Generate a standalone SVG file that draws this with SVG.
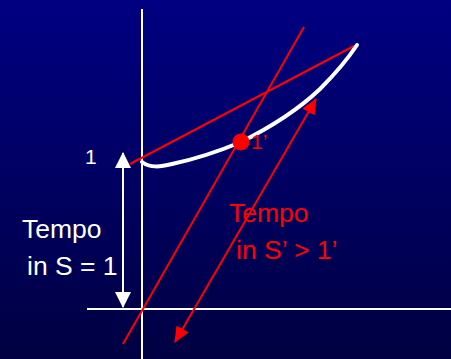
<svg xmlns="http://www.w3.org/2000/svg" width="451" height="359" viewBox="0 0 451 359">
<defs>
<linearGradient id="bg" x1="0" y1="0" x2="0" y2="1">
<stop offset="0" stop-color="#000082"/>
<stop offset="1" stop-color="#000042"/>
</linearGradient>
<marker id="wa" viewBox="0 0 16 16" refX="15" refY="8" markerWidth="16" markerHeight="16" markerUnits="userSpaceOnUse" orient="auto-start-reverse">
<path d="M0,0 L16,8 L0,16 Z" fill="#fff"/>
</marker>
<marker id="ra" viewBox="0 0 16 14" refX="15" refY="7" markerWidth="16" markerHeight="14" markerUnits="userSpaceOnUse" orient="auto-start-reverse">
<path d="M0,0 L16,7 L0,14 Z" fill="#f00"/>
</marker>
<style>
.ax{stroke:#fff;stroke-width:2;fill:none}
.rl{stroke:#f00;stroke-width:2;fill:none}
.t{font-family:"Liberation Sans",Arial,sans-serif}
.w{fill:#fff}
.r{fill:#f00}
</style>
</defs>
<rect width="451" height="359" fill="url(#bg)"/>
<g id="axes">
<line class="ax" x1="142" y1="9" x2="142" y2="359"/>
<line class="ax" x1="87" y1="309" x2="451" y2="309"/>
</g>
<g id="connectors">
<line class="rl" x1="304" y1="27" x2="123" y2="344"/>
<line class="rl" x1="130" y1="164" x2="354" y2="46"/>
<path d="M142,162 C150,168 160,167 172,164 C200,158 222,150 241,142 C275,125 300,108 320,89 C335,74 347,60 357,45" stroke="#fff" stroke-width="4" fill="none" stroke-linecap="round"/>
<line class="ax" x1="123" y1="153" x2="123" y2="307" marker-start="url(#wa)" marker-end="url(#wa)"/>
<line class="rl" x1="175" y1="342" x2="316" y2="99" marker-start="url(#ra)" marker-end="url(#ra)"/>
</g>
<g id="point">
<circle cx="241" cy="142" r="8.5" fill="#f00"/>
<text class="t r" x="251" y="149" font-size="21">1’</text>
</g>
<g id="label-1">
<text class="t w" x="85" y="164" font-size="21">1</text>
</g>
<g id="label-s">
<text class="t w" x="22" y="238" font-size="26.5">Tempo</text>
<text class="t w" x="27" y="275" font-size="26.5">in S = 1</text>
</g>
<g id="label-s-prime">
<text class="t r" x="229" y="222" font-size="26.5">Tempo</text>
<text class="t r" x="236" y="259" font-size="26.5">in S’ &gt; 1’</text>
</g>
</svg>
